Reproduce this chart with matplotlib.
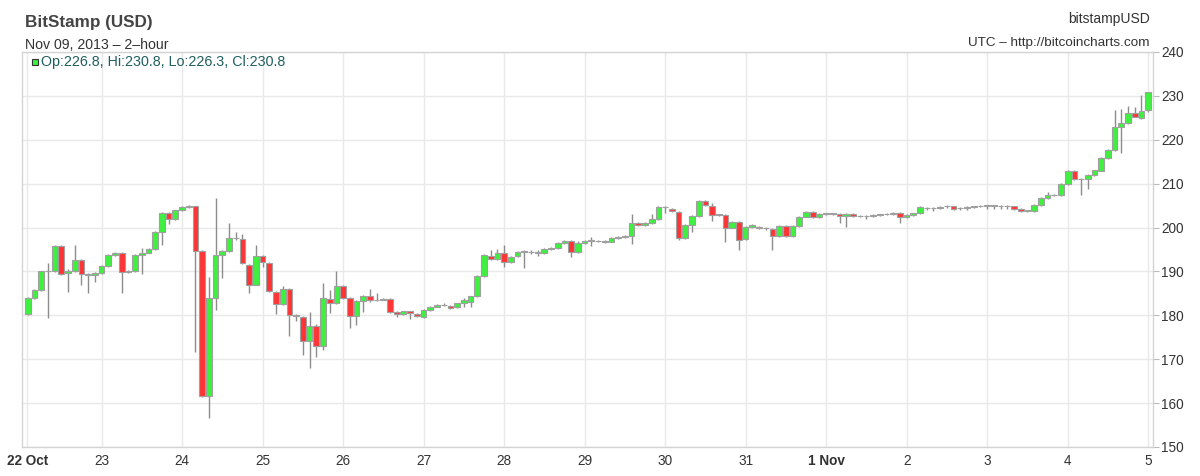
import matplotlib
matplotlib.use("Agg")
import matplotlib.pyplot as plt
import numpy as np

plt.rcParams["font.family"] = ["Liberation Sans", "DejaVu Sans"]

# BitStamp BTC/USD, 2-hour candles, 22 Oct 02:00 .. 5 Nov 00:00 (UTC)
# one row = one day (12 candles)
opens = [
    180.3, 184.0, 185.8, 190.0, 190.0, 195.9, 189.6, 190.0, 192.6, 189.4, 189.3, 189.6,
    191.3, 193.8, 194.3, 189.9, 190.0, 193.8, 194.3, 195.2, 199.0, 203.4, 202.0, 203.9,
    204.6, 204.8, 194.7, 161.6, 183.9, 193.8, 194.7, 197.6, 197.3, 191.4, 187.0, 193.5,
    191.9, 185.3, 182.6, 186.0, 180.1, 179.7, 174.2, 177.6, 173.0, 183.7, 182.8, 186.6,
    183.9, 179.9, 183.2, 184.3, 183.5, 183.6, 183.7, 180.7, 180.3, 180.9, 180.4, 179.7,
    181.2, 182.0, 182.3, 182.2, 181.9, 182.7, 183.1, 184.3, 189.0, 193.6, 192.8, 194.2,
    192.1, 193.6, 194.5, 194.4, 194.4, 194.2, 195.1, 195.4, 196.4, 197.0, 194.4, 196.4,
    197.0, 196.9, 196.9, 196.8, 197.6, 197.8, 198.0, 201.0, 200.6, 201.0, 201.9, 204.6,
    204.2, 203.6, 197.6, 200.6, 202.7, 206.1, 204.8, 202.9, 202.9, 200.0, 201.2, 197.3,
    200.2, 200.2, 200.0, 199.6, 198.1, 200.4, 198.1, 200.4, 202.5, 203.6, 202.3, 203.2,
    203.2, 203.2, 202.6, 203.2, 202.6, 202.6, 202.7, 202.8, 203.0, 203.1, 203.3, 202.3,
    202.9, 203.4, 204.5, 204.4, 204.5, 204.8, 204.8, 204.4, 204.5, 204.7, 204.9, 205.0,
    205.0, 205.0, 204.8, 204.8, 204.2, 203.8, 203.8, 205.1, 206.7, 207.4, 207.4, 209.9,
    212.9, 211.0, 211.0, 212.0, 213.0, 215.9, 217.7, 222.8, 223.9, 226.0, 224.9, 226.8,
]
highs = [
    184.2, 186.0, 190.2, 191.9, 196.0, 196.1, 190.5, 196.0, 192.8, 189.6, 189.8, 191.5,
    194.0, 194.5, 194.5, 190.3, 194.0, 195.3, 195.4, 199.2, 203.6, 203.6, 204.1, 204.8,
    205.2, 205.0, 194.9, 188.8, 206.7, 194.9, 201.0, 199.0, 198.5, 191.6, 196.0, 193.7,
    192.1, 185.5, 186.6, 186.2, 180.3, 179.9, 180.7, 178.0, 187.3, 185.8, 190.0, 186.8,
    184.1, 183.4, 184.7, 186.0, 185.0, 183.9, 183.9, 180.9, 181.1, 181.1, 180.6, 181.4,
    182.2, 182.5, 182.7, 182.4, 182.9, 184.0, 184.5, 189.2, 194.0, 195.0, 195.2, 196.0,
    193.5, 194.7, 194.9, 194.9, 194.9, 195.3, 195.6, 196.6, 197.2, 197.2, 197.0, 197.2,
    197.8, 197.1, 197.1, 197.8, 198.0, 198.3, 203.0, 201.2, 201.2, 203.0, 204.8, 205.0,
    204.4, 203.8, 200.8, 202.9, 206.3, 206.3, 205.7, 203.1, 203.1, 201.4, 201.4, 200.4,
    200.8, 200.4, 200.2, 199.8, 200.6, 200.6, 200.6, 202.7, 203.8, 203.8, 203.4, 203.4,
    203.4, 203.4, 203.4, 203.4, 202.8, 202.8, 203.0, 203.2, 203.3, 203.5, 203.5, 203.0,
    203.4, 204.8, 204.7, 204.7, 204.9, 205.2, 205.0, 204.6, 204.8, 205.0, 205.1, 205.2,
    205.2, 205.2, 205.1, 205.0, 204.4, 204.0, 205.3, 206.9, 208.1, 207.6, 210.1, 213.1,
    213.1, 211.2, 212.2, 213.2, 216.1, 217.9, 226.7, 227.0, 227.7, 227.5, 230.2, 230.8,
]
lows = [
    180.0, 183.8, 185.6, 179.4, 189.8, 189.2, 185.4, 189.8, 187.0, 185.2, 187.5, 189.4,
    191.1, 193.6, 185.2, 189.6, 189.8, 189.4, 194.1, 195.0, 196.0, 200.7, 201.8, 203.7,
    204.5, 171.7, 161.4, 156.6, 181.2, 188.4, 194.5, 197.2, 191.7, 185.0, 186.8, 191.0,
    185.4, 180.2, 182.4, 175.4, 178.7, 171.0, 168.0, 170.6, 172.0, 180.6, 182.6, 183.7,
    177.1, 177.9, 180.7, 183.0, 183.3, 183.4, 180.5, 179.6, 180.1, 179.2, 179.7, 179.5,
    181.0, 181.8, 182.1, 181.5, 181.7, 182.0, 181.8, 184.1, 188.8, 192.6, 192.6, 191.0,
    191.9, 193.4, 190.7, 193.9, 193.6, 194.0, 194.9, 195.2, 196.2, 193.4, 194.2, 196.2,
    195.7, 196.7, 196.5, 196.6, 197.4, 197.6, 196.2, 200.4, 200.4, 200.8, 201.7, 203.4,
    203.6, 197.2, 197.4, 199.0, 202.5, 204.9, 201.5, 202.7, 196.7, 199.8, 195.0, 197.1,
    200.0, 199.6, 199.4, 195.0, 197.9, 197.9, 197.9, 200.2, 202.3, 202.1, 202.1, 202.8,
    202.8, 201.0, 200.2, 202.4, 202.4, 202.0, 202.5, 202.6, 202.8, 202.9, 201.0, 202.1,
    202.7, 203.2, 204.0, 203.8, 204.2, 204.5, 204.0, 204.0, 204.1, 204.4, 204.6, 204.2,
    204.2, 204.2, 204.2, 204.1, 203.6, 203.6, 203.6, 204.9, 206.5, 207.2, 207.2, 209.7,
    210.8, 207.4, 208.7, 211.8, 212.8, 215.7, 217.5, 217.1, 223.7, 225.1, 224.7, 226.3,
]
closes = [
    184.0, 185.8, 190.0, 190.2, 195.9, 189.4, 190.0, 192.6, 189.4, 189.3, 189.6, 191.3,
    193.8, 194.3, 189.9, 190.0, 193.8, 194.3, 195.2, 199.0, 203.4, 202.0, 203.9, 204.6,
    205.0, 194.7, 161.6, 183.9, 193.8, 194.7, 197.6, 197.6, 191.9, 187.0, 193.5, 192.1,
    185.6, 182.6, 186.0, 180.1, 179.9, 174.2, 177.6, 173.0, 183.9, 182.7, 186.6, 183.9,
    179.9, 183.2, 184.5, 183.5, 183.6, 183.7, 180.7, 180.3, 180.9, 180.6, 179.9, 181.2,
    182.0, 182.3, 182.4, 181.7, 182.7, 183.4, 184.3, 189.0, 193.8, 192.8, 194.3, 192.1,
    193.3, 194.5, 194.5, 194.5, 194.2, 195.1, 195.4, 196.4, 197.0, 194.4, 196.4, 197.0,
    197.0, 196.9, 196.8, 197.6, 197.8, 198.0, 201.0, 200.6, 201.0, 201.9, 204.6, 204.6,
    203.8, 197.6, 200.6, 202.7, 206.1, 205.1, 202.9, 202.9, 199.8, 201.2, 197.2, 200.2,
    200.6, 200.0, 199.9, 198.1, 200.4, 198.1, 200.4, 202.5, 203.6, 202.3, 203.2, 203.2,
    203.2, 202.6, 203.2, 202.6, 202.6, 202.7, 202.8, 203.0, 203.1, 203.3, 202.5, 202.9,
    203.3, 204.6, 204.4, 204.4, 204.6, 205.0, 204.2, 204.4, 204.6, 204.8, 205.0, 205.0,
    205.0, 204.8, 204.8, 204.3, 203.8, 203.8, 205.1, 206.7, 207.4, 207.4, 209.9, 212.9,
    211.0, 211.0, 212.0, 213.0, 215.9, 217.7, 222.8, 223.9, 226.0, 225.3, 226.6, 230.8,
]

day_labels = ["22 Oct", "23", "24", "25", "26", "27", "28", "29", "30", "31",
              "1 Nov", "2", "3", "4", "5"]
price_ticks = [150, 160, 170, 180, 190, 200, 210, 220, 230, 240]

W, H = 1200, 476
fig = plt.figure(figsize=(W / 100, H / 100), dpi=100)
ax = fig.add_axes([22 / W, 29 / H, 1131 / W, 395 / H])

o = np.array(opens)
h = np.array(highs)
l = np.array(lows)
c = np.array(closes)
t = (np.arange(len(o)) + 1) / 12.0   # days since 22 Oct 00:00

up = c >= o
doji = np.abs(c - o) < 0.25
face = np.where(doji, "#999999", np.where(up, "#3ff03f", "#ff3535"))

ax.vlines(t, l, h, color="#8c8c8c", lw=1, zorder=2)
bottom = np.minimum(o, c)
height = np.maximum(np.abs(c - o), 0.1)
ax.bar(t, height, bottom=bottom, width=0.85 / 12, color=face,
       edgecolor="#a0a0a0", linewidth=0.8, zorder=3)

ax.set_xlim(0.012, 14.06)
ax.set_ylim(150, 240)

xt = [0.08] + list(range(1, 15))
ax.set_xticks(xt)
ax.set_xticklabels(day_labels)
for lbl in ax.get_xticklabels():
    if "Oct" in lbl.get_text() or "Nov" in lbl.get_text():
        lbl.set_fontweight("bold")
ax.set_yticks(price_ticks)
ax.yaxis.tick_right()
ax.tick_params(axis="y", length=4, color="#bbbbbb", labelsize=9.8,
               labelcolor="#333333", pad=2)
ax.tick_params(axis="x", length=0, labelsize=9.8, labelcolor="#333333", pad=5)

ax.grid(True, color="#e9e9e9", lw=1)
ax.set_axisbelow(True)
for s in ax.spines.values():
    s.set_color("#d4d4d4")
    s.set_linewidth(1)

# header
def px(x, y):
    return x / W, 1 - y / H

fig.text(*px(25, 27), "BitStamp (USD)", fontsize=12.3, fontweight="bold",
         color="#444444", va="baseline")
fig.text(*px(25, 49), "Nov 09, 2013 \u2013 2\u2013hour", fontsize=10.2,
         color="#333333", va="baseline")
fig.text(*px(1150, 23), "bitstampUSD", fontsize=10, color="#333333",
         ha="right", va="baseline")
fig.text(*px(1150, 46), "UTC \u2013 http://bitcoincharts.com", fontsize=9.7,
         color="#333333", ha="right", va="baseline")

# OHLC readout of last candle
fig.patches.append(plt.Rectangle(px(32, 65), 6 / W, 6 / H, transform=fig.transFigure,
                                 facecolor="#3ff03f", edgecolor="#333333", lw=0.8))
fig.text(*px(41, 66), f"Op:{o[-1]:.1f}, Hi:{h[-1]:.1f}, Lo:{l[-1]:.1f}, Cl:{c[-1]:.1f}",
         fontsize=10.3, color="#1f5e5e", va="baseline")

fig.savefig("out.png", dpi=100)
